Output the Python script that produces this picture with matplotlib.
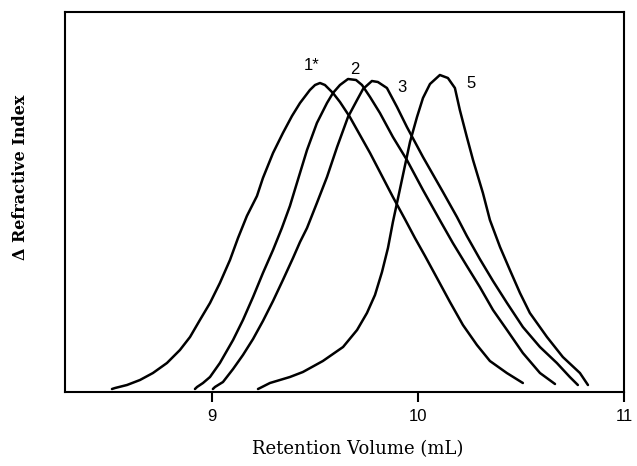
import matplotlib
matplotlib.use("Agg")
import matplotlib.pyplot as plt

# Retention volume (mL) and detector response (arbitrary units)
x1 = [8.514, 8.529, 8.587, 8.650, 8.713, 8.781, 8.844, 8.893, 8.941, 8.990, 9.038, 9.087,
      9.126, 9.169, 9.218, 9.247, 9.296, 9.344, 9.388, 9.427, 9.475, 9.500, 9.524, 9.548,
      9.587, 9.621, 9.669, 9.718, 9.767, 9.815, 9.878, 9.936, 9.985, 10.034, 10.092, 10.155,
      10.218, 10.286, 10.349, 10.431, 10.509]
y1 = [3, 4, 7, 12, 19, 29, 42, 55, 72, 89, 109, 132,
      154, 176, 196, 214, 239, 259, 276, 289, 302, 307, 309, 307,
      299, 290, 275, 257, 239, 220, 195, 173, 154, 136, 114, 90,
      67, 47, 31, 19, 9]

x2 = [8.917, 8.927, 8.956, 8.990, 9.038, 9.102, 9.150, 9.199, 9.247, 9.296, 9.339, 9.378,
      9.412, 9.461, 9.509, 9.558, 9.587, 9.621, 9.660, 9.699, 9.728, 9.767, 9.815, 9.878,
      9.946, 10.024, 10.111, 10.169, 10.237, 10.300, 10.364, 10.432, 10.509, 10.592, 10.665]
y2 = [3, 5, 9, 15, 29, 52, 72, 95, 119, 142, 164, 186,
      209, 242, 269, 289, 299, 307, 313, 312, 307, 295, 279, 255,
      232, 202, 170, 149, 126, 105, 82, 62, 39, 19, 8]

x3 = [9.004, 9.014, 9.053, 9.102, 9.150, 9.199, 9.247, 9.296, 9.344, 9.393, 9.427, 9.461,
      9.509, 9.558, 9.607, 9.660, 9.704, 9.733, 9.776, 9.805, 9.849, 9.898, 9.946, 10.024,
      10.121, 10.189, 10.237, 10.300, 10.364, 10.432, 10.509, 10.592, 10.674, 10.737, 10.776]
y3 = [3, 5, 10, 23, 37, 53, 71, 91, 112, 134, 150, 164,
      189, 215, 245, 275, 292, 303, 311, 310, 304, 285, 265, 235,
      200, 175, 156, 133, 111, 89, 65, 45, 29, 15, 7]

x5 = [9.223, 9.233, 9.281, 9.378, 9.441, 9.538, 9.636, 9.704, 9.752, 9.791, 9.825, 9.854,
      9.878, 9.903, 9.932, 9.961, 9.995, 10.024, 10.058, 10.106, 10.145, 10.179, 10.203,
      10.237, 10.267, 10.315, 10.349, 10.398, 10.446, 10.495, 10.543, 10.626, 10.703,
      10.786, 10.825]
y5 = [3, 4, 9, 15, 20, 31, 45, 62, 79, 97, 120, 144,
      170, 194, 222, 250, 275, 294, 308, 317, 314, 304, 282,
      255, 232, 199, 172, 145, 122, 99, 79, 55, 35,
      19, 7]

labels = ["1*", "2", "3", "5"]
label_x = [9.485, 9.694, 9.922, 10.257]
label_y = [326, 322, 305, 308]

xticks = [9, 10, 11]

fig = plt.figure(figsize=(6.37, 4.66), dpi=100)
ax = fig.add_axes([65 / 637, 1 - 392 / 466, (624 - 65) / 637, (392 - 12) / 466])

for xs, ys in [(x1, y1), (x2, y2), (x3, y3), (x5, y5)]:
    ax.plot(xs, ys, color="black", lw=1.8, solid_capstyle="round", solid_joinstyle="round")

for t, lx, ly in zip(labels, label_x, label_y):
    ax.text(lx, ly, t, fontsize=12, family="Liberation Sans", ha="center", va="center")

ax.set_xlim(8.286, 11.0)
ax.set_ylim(0, 380)
ax.set_xticks(xticks)
ax.set_xticklabels([str(t) for t in xticks], family="Liberation Sans", fontsize=12)
ax.set_yticks([])
ax.tick_params(axis="x", direction="out", length=7, width=1.5, pad=5)
for s in ax.spines.values():
    s.set_linewidth(1.5)

fig.text(357.6 / 637, 1 - 449 / 466, "Retention Volume (mL)", ha="center", va="center",
         family="DejaVu Serif", fontsize=13)
fig.text(21 / 637, 1 - 177 / 466, "\u0394 Refractive Index", ha="center", va="center",
         rotation=90, family="DejaVu Serif", fontsize=11.5, fontweight="bold")

fig.savefig("out.png", dpi=100)
